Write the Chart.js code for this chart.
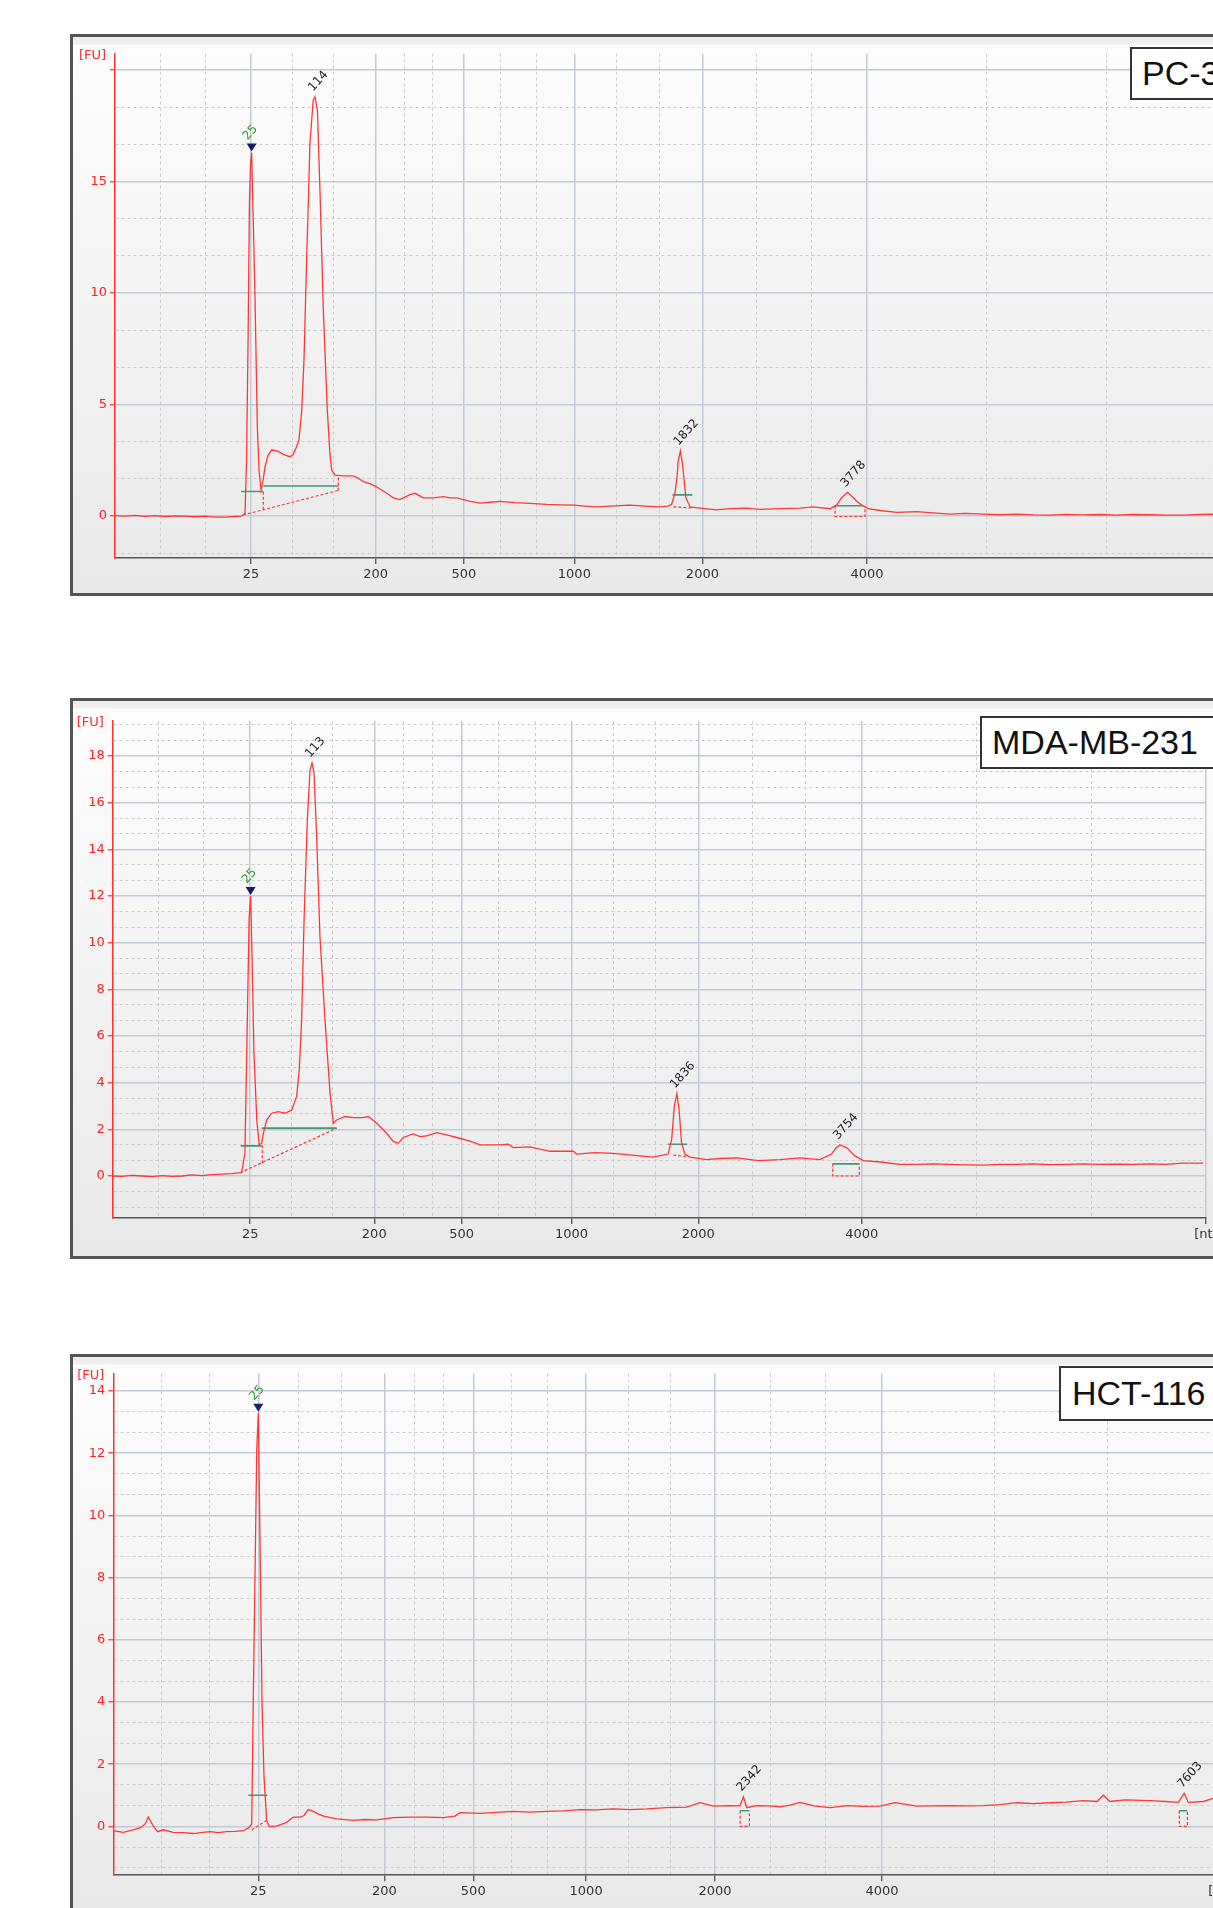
<!DOCTYPE html>
<html><head><meta charset="utf-8">
<script src="https://cdn.jsdelivr.net/npm/chart.js@4.4.1/dist/chart.umd.min.js"></script>
<style>
html,body{margin:0;padding:0;width:1213px;height:1908px;overflow:hidden;background:#fff;}
.frame{position:absolute;left:70px;border:3px solid #555;box-sizing:border-box;
  background:linear-gradient(to bottom,#efefef 0px,#efefef 7px,#fdfdfd 8px,#e9e9e9 100%);}
.frame canvas{position:absolute;left:0;top:0;}
.tag{position:absolute;background:#fff;border:2px solid #333;font-family:'Liberation Sans',Arial,sans-serif;
  font-size:34px;color:#111;box-sizing:border-box;white-space:nowrap;}
</style></head>
<body>
<div class="frame" style="top:34px;width:1175px;height:562px;"><canvas id="c1" width="1169" height="556"></canvas></div>
<div class="frame" style="top:698px;width:1158px;height:561px;"><canvas id="c2" width="1152" height="555"></canvas></div>
<div class="frame" style="top:1354px;width:1173px;height:561px;"><canvas id="c3" width="1167" height="555"></canvas></div>
<div class="tag" style="left:1130px;top:47px;width:120px;height:53px;line-height:49px;padding-left:10px;">PC-3</div>
<div class="tag" style="left:980px;top:716px;width:240px;height:53px;line-height:49px;padding-left:10px;">MDA-MB-231</div>
<div class="tag" style="left:1059px;top:1366px;width:170px;height:55px;line-height:51px;padding-left:11px;">HCT-116</div>
<script>
// ---------- x-axis size labels (ladder, nt) ----------
const sizeLabels = ['25','200','500','1000','2000','4000','[nt]'];

// ---------- PC-3 ----------
const pc3MajorX = [25.18, 30.85, 34.86, 39.88, 45.70, 53.18, 69.5];
const pc3MinorX = [21.05, 23.12, 27.06, 28.92, 32.15, 33.44, 36.5, 38.14, 41.8, 43.74, 48.17, 50.67, 58.62, 64.08];
const pc3MajorY = [0, 5, 10, 15, 20];
const pc3YLabels = ['0', '5', '10', '15', ''];
const pc3MinorY = [-1.667, 1.667, 3.333, 6.667, 8.333, 11.667, 13.333, 16.667, 18.333];
const pc3Time = [19.0,19.45,19.91,20.36,20.82,21.27,21.73,22.18,22.64,23.09,23.55,24.0,24.45,24.73,24.82,24.91,24.98,25.05,25.11,25.16,25.21,25.29,25.36,25.47,25.55,25.64,25.73,25.82,25.95,26.12,26.27,26.42,26.59,26.73,26.95,27.09,27.23,27.36,27.49,27.59,27.71,27.80,27.86,28.01,28.09,28.20,28.32,28.47,28.65,28.77,28.85,29.0,29.38,29.83,30.05,30.29,30.59,30.9,31.35,31.65,31.95,32.18,32.41,32.64,33.01,33.47,33.92,34.23,34.53,35.14,35.59,36.05,36.5,37.18,37.86,38.62,39.23,39.88,40.36,40.9,41.5,42.41,43.09,43.77,44.14,44.30,44.45,44.55,44.6,44.7,44.8,44.89,44.95,45.14,45.59,46.35,46.95,47.71,48.32,49.23,50.14,50.74,51.5,51.8,52.03,52.3,52.56,52.73,52.94,53.24,53.77,54.53,55.44,56.18,56.95,57.68,58.47,59.23,59.99,60.73,61.5,62.23,63.01,63.77,64.53,65.27,66.05,66.77,67.56,68.32,68.91,69.5];
const pc3FU = [0.02,0.0,0.03,-0.01,0.02,-0.02,0.01,0.0,-0.03,0.0,-0.05,-0.05,-0.02,0.0,0.05,0.13,2.5,8.0,14.0,15.8,16.3,13.0,10.0,4.0,2.0,1.15,1.6,2.2,2.7,2.96,2.95,2.9,2.8,2.73,2.66,2.75,3.05,3.4,4.75,7.0,11.5,14.5,16.7,18.65,18.8,18.2,14.5,9.2,4.75,2.8,2.06,1.84,1.8,1.8,1.7,1.54,1.45,1.3,1.02,0.82,0.74,0.85,0.96,1.02,0.82,0.82,0.87,0.82,0.82,0.66,0.58,0.62,0.66,0.6,0.57,0.52,0.5,0.49,0.45,0.41,0.45,0.49,0.45,0.41,0.45,0.53,1.0,1.8,2.46,2.92,2.3,1.4,0.82,0.41,0.36,0.28,0.33,0.36,0.3,0.33,0.36,0.41,0.33,0.49,0.82,1.06,0.82,0.65,0.49,0.33,0.25,0.17,0.2,0.14,0.09,0.12,0.09,0.06,0.09,0.05,0.04,0.08,0.05,0.07,0.04,0.07,0.06,0.04,0.04,0.07,0.09,0.08];
const pc3Peaks = [[25.21,16.3,'25',1],[28.09,18.8,'114',0],[44.7,2.92,'1832',0],[52.3,1.06,'3778',0]];
const pc3Green = [[24.73,1.1,25.74,1.1],[25.74,1.35,29.15,1.35],[44.34,0.95,45.24,0.95],[51.70,0.46,53.01,0.46]];
const pc3Red = [[24.82,0.05,29.15,1.15],[25.74,0.28,25.74,1.15],[29.15,1.15,29.15,1.75],[44.38,0.41,45.29,0.36],[51.73,0.46,51.73,-0.02,53.09,-0.02,53.09,0.46]];

// ---------- MDA-MB-231 ----------
const mdaMajorX = [25.25, 30.89, 34.86, 39.86, 45.62, 53.05, 68.7];
const mdaMinorX = [21.07, 23.15, 27.14, 29.0, 32.21, 33.55, 36.53, 38.2, 41.75, 43.68, 48.07, 50.51, 58.27, 63.48];
const mdaMajorY = [0, 2, 4, 6, 8, 10, 12, 14, 16, 18];
const mdaYLabels = ['0','2','4','6','8','10','12','14','16','18'];
const mdaMinorY = [-1.333,-0.667,0.667,1.333,2.667,3.333,4.667,5.333,6.667,7.333,8.667,9.333,10.667,11.333,12.667,13.333,14.667,15.333,16.667,17.333,18.667,19.333];
const mdaTime = [19.0,19.42,19.88,20.33,20.79,21.24,21.7,22.15,22.6,23.06,23.51,23.97,24.42,24.86,25.01,25.12,25.2,25.27,25.33,25.42,25.55,25.66,25.77,25.85,26.0,26.23,26.53,26.83,27.14,27.36,27.48,27.59,27.7,27.85,27.97,28.06,28.15,28.27,28.42,28.65,28.88,29.03,29.18,29.56,29.94,30.39,30.62,31.0,31.45,31.75,31.98,32.21,32.66,32.97,33.27,33.73,34.18,34.64,35.24,35.7,36.6,36.98,37.21,37.97,38.88,39.94,40.09,40.92,41.75,42.97,43.57,44.25,44.41,44.53,44.65,44.75,44.86,45.01,45.24,46.0,46.6,47.36,48.35,49.33,50.24,51.15,51.68,51.88,52.06,52.36,52.74,53.12,53.88,54.79,55.55,56.29,57.06,57.79,58.57,59.33,60.09,60.83,61.6,62.33,63.12,63.88,64.64,65.38,66.15,66.88,67.66,68.57];
const mdaFU = [0.0,-0.02,0.03,0.0,-0.03,0.02,-0.02,0.0,0.05,0.02,0.06,0.08,0.1,0.15,0.97,6.7,11.0,12.0,9.56,5.3,2.4,1.33,1.4,1.83,2.4,2.69,2.76,2.69,2.83,3.4,4.55,6.7,11.0,15.3,17.4,17.7,17.3,14.6,10.3,6.7,3.55,2.26,2.4,2.55,2.5,2.5,2.55,2.26,1.83,1.48,1.4,1.65,1.8,1.69,1.72,1.86,1.76,1.65,1.49,1.33,1.33,1.36,1.22,1.25,1.06,1.06,0.94,1.0,0.97,0.86,0.81,0.94,1.57,2.98,3.53,2.82,1.41,0.94,0.81,0.7,0.75,0.78,0.66,0.7,0.78,0.7,0.94,1.2,1.33,1.22,0.86,0.66,0.6,0.5,0.5,0.52,0.5,0.48,0.47,0.5,0.5,0.52,0.49,0.5,0.52,0.5,0.51,0.5,0.52,0.5,0.55,0.55];
const mdaPeaks = [[25.27,12.0,'25',1],[28.06,17.7,'113',0],[44.65,3.53,'1836',0],[52.06,1.33,'3754',0]];
const mdaGreen = [[24.82,1.29,25.77,1.29],[25.77,2.05,29.18,2.05],[44.24,1.36,45.12,1.36],[51.73,0.52,52.94,0.52]];
const mdaRed = [[24.79,0.14,29.18,2.05],[25.8,0.55,25.8,1.33],[44.48,0.9,45.16,0.82],[51.73,0.52,51.73,0.0,52.94,0.0,52.94,0.52]];

// ---------- HCT-116 ----------
const hctMajorX = [25.59, 31.32, 35.36, 40.49, 46.35, 53.94, 69.3];
const hctMinorX = [21.17, 23.35, 27.44, 29.35, 32.67, 34.0, 37.08, 38.75, 42.41, 44.34, 48.88, 51.38, 59.05, 64.18];
const hctMajorY = [0, 2, 4, 6, 8, 10, 12, 14];
const hctYLabels = ['0','2','4','6','8','10','12','14'];
const hctMinorY = [-1.333,-0.667,0.667,1.333,2.667,3.333,4.667,5.333,6.667,7.333,8.667,9.333,10.667,11.333,12.667,13.333];
const hctTime = [19.0,19.45,19.91,20.21,20.44,20.59,20.82,21.02,21.27,21.73,22.17,22.64,23.08,23.4,23.76,24.15,24.53,24.91,25.14,25.29,25.36,25.44,25.52,25.59,25.67,25.76,25.85,25.97,26.09,26.43,26.88,27.18,27.49,27.67,27.86,28.09,28.3,28.55,29.15,29.91,30.44,30.97,31.73,32.49,33.25,34.0,34.53,34.76,35.67,36.4,37.18,37.94,38.7,39.44,40.21,40.94,41.73,42.49,43.25,44.15,45.06,45.67,46.27,47.03,47.48,47.64,47.79,48.25,48.76,49.3,49.76,50.21,50.9,51.58,52.34,53.08,53.85,54.53,55.52,56.26,57.03,57.76,58.55,59.3,60.06,60.8,61.58,62.3,63.09,63.71,64.0,64.3,64.99,66.12,66.81,67.41,67.67,67.86,68.55,68.99,69.3];
const hctFU = [-0.14,-0.19,-0.11,-0.05,0.07,0.3,0.01,-0.17,-0.11,-0.19,-0.2,-0.23,-0.19,-0.17,-0.2,-0.17,-0.16,-0.14,-0.05,0.07,3.93,8.03,12.1,13.3,9.1,3.93,1.59,0.19,-0.01,0.01,0.13,0.3,0.3,0.35,0.54,0.48,0.4,0.33,0.24,0.19,0.22,0.21,0.28,0.3,0.3,0.28,0.33,0.44,0.42,0.45,0.48,0.46,0.48,0.5,0.54,0.53,0.56,0.54,0.56,0.6,0.62,0.76,0.65,0.67,0.66,0.95,0.6,0.67,0.66,0.63,0.68,0.77,0.65,0.6,0.67,0.64,0.65,0.76,0.65,0.66,0.67,0.66,0.67,0.7,0.76,0.73,0.76,0.78,0.83,0.8,1.0,0.8,0.85,0.83,0.8,0.77,1.06,0.77,0.8,0.9,0.85];
const hctPeaks = [[25.59,13.3,'25',1],[47.64,0.95,'2342',0],[67.67,1.06,'7603',0]];
const hctGreen = [[25.14,1.0,26.0,1.0],[47.49,0.5,47.91,0.5],[67.45,0.5,67.82,0.5]];
const hctRed = [[25.29,-0.11,25.97,0.19],[47.49,0.5,47.49,0.0,47.91,0.0,47.91,0.5],[67.45,0.5,67.45,0.0,67.82,0.0,67.82,0.5]];

// ---------- helpers ----------
function pts(xs, ys){ return xs.map((t,i)=>({x:t, y:ys[i]})); }
function polylines(rows){
  const out = [];
  rows.forEach(r=>{ for(let i=0;i<r.length;i+=2) out.push({x:r[i], y:r[i+1]}); out.push({x:r[r.length-2], y:null}); });
  return out;
}
const FONT = "'DejaVu Sans', Verdana, sans-serif";

function panel(id, P){
  const canvas = document.getElementById(id);
  const overlay = {
    id:'overlay'+id,
    afterDatasetsDraw(chart){
      const {ctx, chartArea, scales:{x, y}} = chart;
      ctx.save();
      ctx.font = '13px ' + FONT;
      ctx.fillStyle = '#ff2a2a';
      ctx.textAlign = 'left'; ctx.textBaseline = 'middle';
      ctx.fillText('[FU]', chartArea.left - 36, chartArea.top + 2);
      P.peaks.forEach(pk=>{
        const px = x.getPixelForValue(pk[0]), py = y.getPixelForValue(pk[1]);
        let ax, ay;
        if (pk[3]) {
          ctx.fillStyle = '#1b1b6e';
          ctx.beginPath(); ctx.moveTo(px-5, py-9); ctx.lineTo(px+5, py-9); ctx.lineTo(px, py-1); ctx.closePath(); ctx.fill();
          ctx.fillStyle = '#2e9e2e'; ax = px - 4; ay = py - 12;
        } else { ctx.fillStyle = '#222'; ax = px - 2; ay = py - 5; }
        ctx.save(); ctx.translate(ax, ay); ctx.rotate(-48*Math.PI/180);
        ctx.font = '12px ' + FONT; ctx.textBaseline = 'alphabetic';
        ctx.fillText(pk[2], 0, 0); ctx.restore();
      });
      ctx.restore();
    }
  };
  const xt = P.majorX.map((v,i)=>({value:v, lbl:sizeLabels[i], minor:false})).concat(P.minorX.map(v=>({value:v, lbl:'', minor:true})));
  const yt = P.majorY.map((v,i)=>({value:v, lbl:P.yLabels[i], minor:false})).concat(P.minorY.map(v=>({value:v, lbl:'', minor:true})));
  const isMinor = c => !!(c.tick && c.tick.minor);
  return new Chart(canvas, {
    type:'line',
    data:{ datasets:[
      {data:pts(P.time, P.fu), borderColor:'rgb(255,55,55)', borderWidth:1.3, pointRadius:0, tension:0, order:1},
      {data:polylines(P.green), borderColor:'#3a9a7a', borderWidth:1.6, pointRadius:0, spanGaps:false, order:2},
      {data:polylines(P.red), borderColor:'#ff3030', borderWidth:1.2, borderDash:[3,2], pointRadius:0, spanGaps:false, order:3}
    ]},
    options:{
      responsive:false, animation:false, devicePixelRatio:1,
      layout:{padding:{left:0, top:P.padTop, right:P.padRight, bottom:0}},
      plugins:{legend:{display:false}, tooltip:{enabled:false}},
      scales:{
        x:{type:'linear', min:19, max:P.majorX[P.majorX.length-1], bounds:'data',
          afterBuildTicks:s=>{ s.ticks = xt.map(o=>Object.assign({}, o)); },
          afterFit:s=>{ s.height = P.xAxisH; },
          ticks:{autoSkip:false, maxRotation:0, minRotation:0, padding:3, color:'#333', font:{family:FONT, size:13},
            callback:(v,i,ticks)=>ticks[i].lbl},
          grid:{drawOnChartArea:true, drawTicks:true, tickLength:6,
            color:c=>isMinor(c)?'#cdcdcd':'#c3c9d7', lineWidth:c=>isMinor(c)?1:1.5,
            tickColor:c=>isMinor(c)?'rgba(0,0,0,0)':'#444', tickWidth:1.2},
          border:{display:true, color:'#555', width:1.5, dash:c=>isMinor(c)?[3,3]:[]}
        },
        y:{type:'linear', min:P.minY, max:P.maxY, bounds:'data',
          afterBuildTicks:s=>{ s.ticks = yt.map(o=>Object.assign({}, o)); },
          afterFit:s=>{ s.width = P.yAxisW; },
          ticks:{autoSkip:false, padding:3, color:'#ff2020', font:{family:FONT, size:13},
            callback:(v,i,ticks)=>ticks[i].lbl},
          grid:{drawOnChartArea:true, drawTicks:true, tickLength:5,
            color:c=>isMinor(c)?'#cdcdcd':'#c3c9d7', lineWidth:c=>isMinor(c)?1:1.5,
            tickColor:c=>isMinor(c)?'rgba(0,0,0,0)':'#ff3030', tickWidth:1.2},
          border:{display:true, color:'#ff3030', width:1.5, dash:c=>isMinor(c)?[3,3]:[]}
        }
      }
    },
    plugins:[overlay]
  });
}

panel('c1', {time:pc3Time, fu:pc3FU, peaks:pc3Peaks, green:pc3Green, red:pc3Red,
  majorX:pc3MajorX, minorX:pc3MinorX, majorY:pc3MajorY, yLabels:pc3YLabels, minorY:pc3MinorY,
  minY:-1.88, maxY:20.73, padTop:16.7, padRight:16, yAxisW:42, xAxisH:35});
panel('c2', {time:mdaTime, fu:mdaFU, peaks:mdaPeaks, green:mdaGreen, red:mdaRed,
  majorX:mdaMajorX, minorX:mdaMinorX, majorY:mdaMajorY, yLabels:mdaYLabels, minorY:mdaMinorY,
  minY:-1.8, maxY:19.5, padTop:20, padRight:19, yAxisW:39.7, xAxisH:38});
panel('c3', {time:hctTime, fu:hctFU, peaks:hctPeaks, green:hctGreen, red:hctRed,
  majorX:hctMajorX, minorX:hctMinorX, majorY:hctMajorY, yLabels:hctYLabels, minorY:hctMinorY,
  minY:-1.57, maxY:14.56, padTop:16.5, padRight:20, yAxisW:40.3, xAxisH:36.8});
</script>
</body></html>
